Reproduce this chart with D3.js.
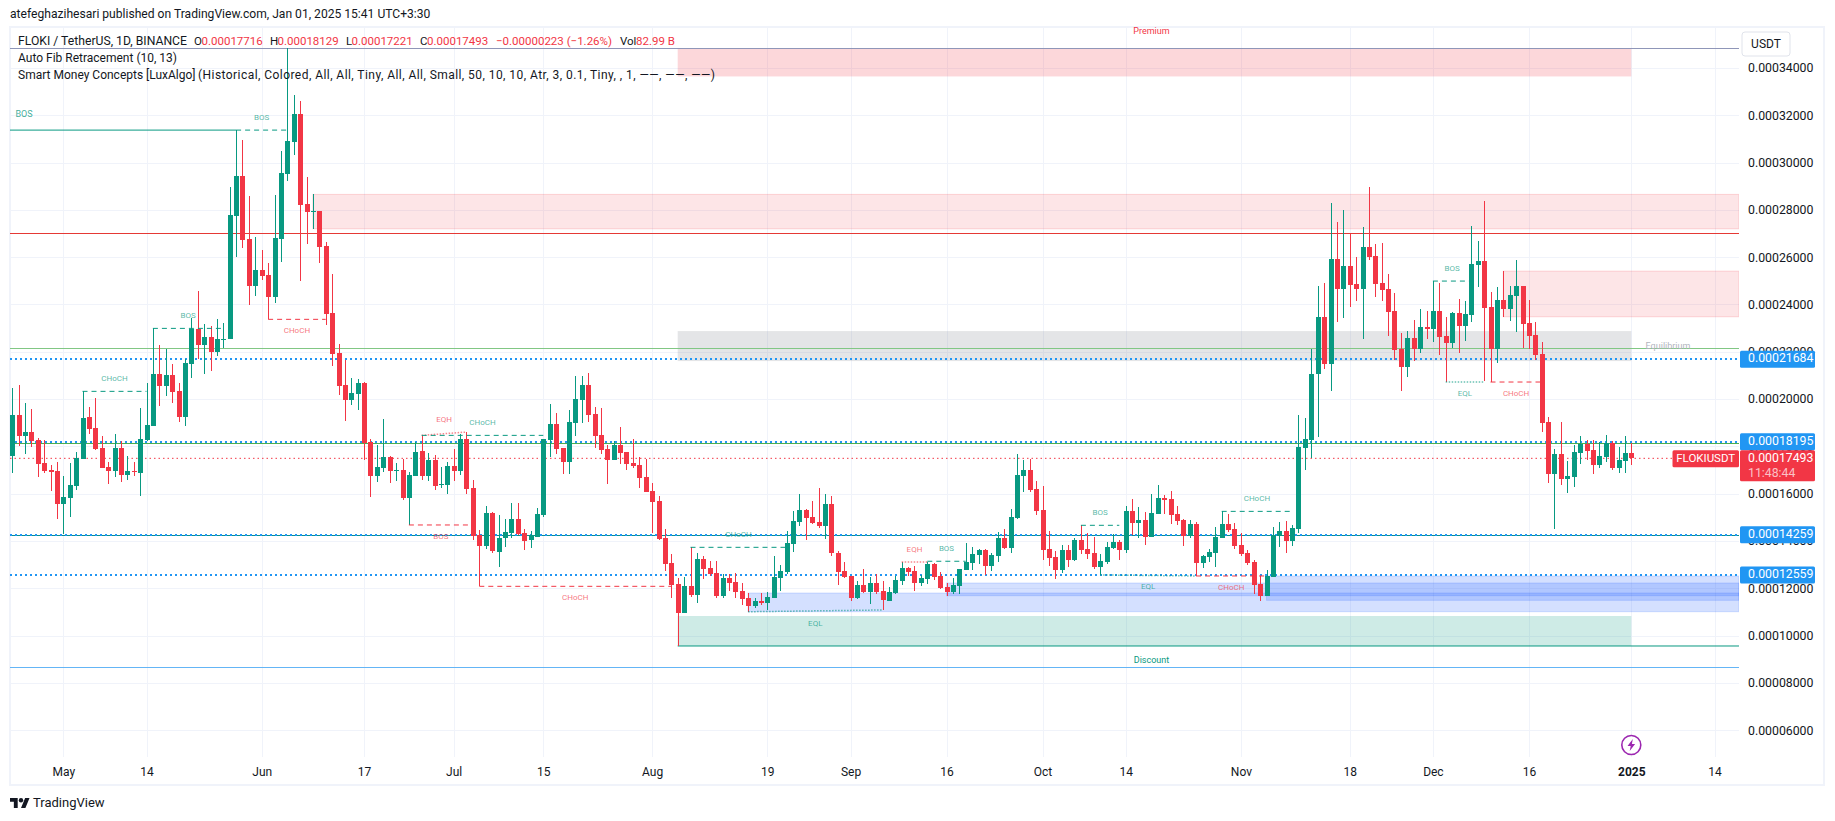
<!DOCTYPE html>
<html>
<head>
<meta charset="utf-8">
<script src="https://cdn.jsdelivr.net/npm/d3@7"></script>
<style>
  html, body { margin: 0; padding: 0; background: #fff; }
  svg { display: block; font-family: Roboto, "Liberation Sans", sans-serif; }
</style>
</head>
<body>
<svg id="chart" width="1835" height="821"></svg>
<script>
// all prices are in units of 0.00000001, daily candles from firstDay to lastDay
const firstDay = '2024-04-23';
const lastDay = '2025-01-01';

const opens = [
  17605,19324,18451,18592,18268,17295,16999,16957, // apr
  15576,15830,16337,17478,19240,18775,17929,17126,16957,17929,16788,16957,16887,18268,18873,21057,20550,21015,20339,19240,21480,22959,22283,22621,21987,22509,22539,27738,29429,26766,24779, // may
  25456,25244,24315,26766,29514,30866,32050,28246,27908,27950,26470,23638,21944,20592,19958,20211,20676,18182,16745,17083,17548,16957,17000,15815,16745,17802,16745,17421,16365,16365, // jun
  17168,16957,18309,16238,14251,13786,15181,13533,14124,14336,14928,14336,14040,14167,15096,18267,18943,17929,17337,18986,19958,20592,19366,18478,17886,17421,18056,17760,17294,17209,16702, // jul
  16110,15688,14123,13067,12179,10953,12095,11714,13236,12855,12644,11672,12433,12264,11883,11587,11249,11460,11376,11587,12433,12686,13870,14800,15307,15011,14800,14631,15561,13489,12729, // aug
  12517,11587,12137,11841,12221,11883,11460,11799,12306,12855,12729,12221,12390,13024,12517,12052,11841,12095,12771,13067,13405,13616,12940,13363,14123,13701,14969,16744,16998,16195, // sep
  15307,13658,13320,12771,13616,13194,14039,13658,13489,12898,13109,13701,13954,13616,15265,14758,14884,14166,15138,15814,15772,15138,14884,14208,14715,13067,13320,13489,14123,14715,14504, // oct
  13827,13489,13109,12179,11672,12486,14210,14421,13999,14506,17930,18268,21058,23467,21481,25919,24651,25623,24862,24651,26426,26046,24904,24651,23721,22115,21354,22580,22115,23045, // nov
  22960,23721,22664,22368,23637,23087,23552,25665,25834,23890,22115,24186,23805,24355,24778,23214,22706,21903,19029,16831,17676,16620,16704,17719,18099,17845,17211,17550,18141,17085,17381, // dec
  17716 // jan
];
const highs = [
  20466,20592,19831,19578,18352,18268,17197,17338,
  16746,17295,17746,20325,19662,20043,18437,17338,18521,18225,17591,17338,19620,20677,22988,22283,22114,21480,20677,21691,23424,24566,23171,23086,23382,23213,28964,31374,30951,28584,26851,
  26301,25752,28626,30486,34840,32853,32600,29387,28668,27950,26639,25287,22328,21648,20888,20845,20719,18309,18056,19155,17591,17295,17464,16914,18168,18464,17717,17633,17126,17337,
  17886,18520,18605,16576,14463,15477,15223,15096,14928,15604,15604,14505,14420,15392,18309,19789,19408,17929,19535,20972,20972,21099,19662,19620,18056,18225,18816,17760,18308,17547,17463,
  16448,15899,14504,13447,12433,12475,13729,13490,13363,13151,13151,12602,12602,12644,12221,11799,11587,11799,11841,13363,12982,14419,15265,15983,15349,15687,16237,15983,15899,13574,13109,
  12517,12306,12813,12475,12602,12306,12052,12517,13109,12898,12940,12560,13109,13067,12686,12221,12433,12813,13912,13743,13658,13658,13490,14377,14504,15349,17674,17420,17463,16533,
  16322,14419,13574,13828,13828,14123,14673,14335,14166,13447,13954,14293,14039,15476,15772,15434,15223,15983,16364,15941,16110,15476,14927,14884,14800,13405,13658,14588,15265,15138,14758,
  14335,13616,13194,12517,12771,14591,14801,14844,14675,19325,19198,22115,24778,24904,28286,27483,27990,26976,26004,27272,28962,26553,26595,25285,24482,22791,22876,23340,23805,23721,
  24989,24904,23467,23679,24228,24144,27314,26680,28371,24524,24735,25412,24778,25877,24778,24186,23256,22411,19240,17888,19029,17381,18057,18437,18268,18268,18184,18479,18226,17972,18437,
  18129
];
const lows = [
  16887,18028,17690,17986,16718,16887,16126,14942,
  14294,15027,16168,17478,18535,17845,17098,16422,16718,16492,16577,16746,15914,18239,18873,19705,20127,19831,19028,18859,20888,21691,21057,21184,21818,22156,22539,26019,26386,23976,24357,
  25033,23371,24061,25794,29218,30317,24991,26555,27189,25752,23131,21398,20169,19070,19746,19535,17421,15857,16492,16914,16449,16534,15730,14674,16745,16576,16534,16153,16238,15984,
  16534,16787,15984,14040,12080,13659,13490,12899,13744,14124,14251,13617,13702,14167,15012,17548,17675,16830,16830,18436,18986,19028,17929,17675,16407,17421,17252,16998,17082,16237,16068,
  14335,14039,12729,11587,9556,10953,11630,11376,12390,12517,11587,11587,11883,11587,11291,11005,11165,11291,11080,11587,11883,12602,13532,14631,14039,14715,14546,14081,13363,12137,12433,
  11460,11545,11799,11334,11756,11080,11460,11756,12137,12517,11883,12095,12179,12348,11968,11672,11756,11756,12771,12771,13024,12560,12729,13109,13658,13489,14927,16068,16068,15096,
  13194,12940,12390,12644,12898,13151,13447,13236,12813,12560,13024,13658,13194,13489,14250,14123,13828,14166,15138,15138,14715,14673,13785,14123,12517,12855,13109,12898,14123,14377,13658,
  13363,12982,11756,11460,11672,12486,13745,13492,13788,14337,17000,17507,18395,21269,20339,23256,23425,23890,24143,22537,25877,24313,24143,22664,21650,20339,20931,21608,21946,22537,
  22410,21861,20720,22157,21946,22453,23256,24735,20762,20720,21523,23467,23298,22833,22157,22115,21650,18606,16451,14506,16366,16028,16282,17254,17423,16831,17085,17338,17000,16873,16873,
  17221
];
const closes = [
  19324,18451,18592,18239,17267,16971,16929,15576,
  15858,16365,17507,19197,18732,17887,17098,16957,17929,16788,16957,16915,18310,18902,21057,20550,21015,20296,19240,21522,22959,22283,22621,21987,22537,22537,27781,29429,26724,24779,25456,
  25202,24315,26809,29556,30909,32050,28203,27908,27950,26428,23596,21905,20549,19958,20254,20676,18140,16745,17126,17548,16957,17000,15815,16787,17760,16745,17421,16322,16407,17168,
  16957,18309,16196,14209,13786,15181,13575,14124,14378,14928,14294,13998,14251,15139,18309,18943,17886,17337,19028,20000,20592,19324,18436,17844,17421,18056,17717,17252,17167,16660,16068,
  15645,14081,13024,12137,10953,12095,11714,13236,12813,12602,11672,12433,12221,11841,11545,11249,11460,11376,11630,12475,12729,13912,14842,15307,14969,14758,14631,15561,13489,12686,12475,
  11587,12137,11841,12221,11841,11503,11841,12348,12855,12686,12221,12433,13024,12475,12010,11841,12137,12813,13109,13447,13616,12940,13405,14123,13701,15011,16787,16998,16153,15265,
  13616,13278,12771,13616,13194,14039,13616,13447,12898,13151,13743,13954,13616,15265,14758,14884,14166,15180,15814,15730,15096,14842,14208,14715,13067,13363,13532,14166,14715,14462,13785,
  13447,13067,12137,11672,12517,14252,14421,13999,14549,17972,18310,21058,23467,21481,25919,24651,25623,24820,24651,26426,26004,24862,24609,23679,22072,21354,22580,22115,23045,22960,
  23721,22622,22368,23637,23087,23594,25707,25834,23848,22115,24186,23805,24397,24778,23171,22664,21861,18987,16831,17676,16620,16746,17761,18099,17803,17211,17592,18141,17085,17423,17719,
  17493
];

const priceTicks = [34000,32000,30000,28000,26000,24000,22000,20000,18000,16000,14000,12000,10000,8000,6000];
const timeTicks = ['2024-05-01','2024-05-14','2024-06-01','2024-06-17','2024-07-01','2024-07-15','2024-08-01','2024-08-19','2024-09-01','2024-09-16','2024-10-01','2024-10-14','2024-11-01','2024-11-18','2024-12-01','2024-12-16','2025-01-01','2025-01-14'];
const timeLabels = ['May','14','Jun','17','Jul','15','Aug','19','Sep','16','Oct','14','Nov','18','Dec','16','2025','14'];

// fib levels and swing levels running across the whole chart
const fibLevels = [34840, 27005, 22143, 18150, 14232, 8655];
const fibKinds = ['top', 'red', 'lightgreen', 'green', 'teal', 'sky'];
const tagLevels = [21684, 18195, 14259, 12559];

// zone: kind, from, to (null = right edge), top, bottom
const zones = [
  ['premium', '2024-08-05', '2025-01-01', 34840, 33643],
  ['discount', '2024-08-05', '2025-01-01', 10824, 9556],
  ['equilibrium', '2024-08-05', '2025-01-01', 22874, 21606],
  ['supply', '2024-06-09', null, 28654, 27200],
  ['supply', '2024-12-12', null, 25411, 23479],
  ['demand', '2024-08-16', null, 11797, 11006],
  ['demand', '2024-09-16', null, 12220, 11683],
  ['demand', '2024-11-05', null, 12516, 11488]
];

// structure: label, side, style, from, to, start level, end level, label above(-1)/below(1)
const structures = [
  ['CHoCH', 'bull', 'dash', '2024-05-04', '2024-05-14', 20325, 20325, -1],
  ['BOS', 'bull', 'dash', '2024-05-15', '2024-05-26', 22988, 22988, -1],
  ['BOS', 'bull', 'dash', '2024-05-28', '2024-06-05', 31374, 31374, -1],
  ['CHoCH', 'bear', 'dash', '2024-06-02', '2024-06-11', 23371, 23371, 1],
  ['EQH', 'bear', 'dot', '2024-06-26', '2024-07-03', 18464, 18605, -1.3],
  ['CHoCH', 'bull', 'dash', '2024-06-26', '2024-07-15', 18464, 18464, -1],
  ['BOS', 'bear', 'dash', '2024-06-24', '2024-07-04', 14674, 14674, 1],
  ['CHoCH', 'bear', 'dash', '2024-07-05', '2024-08-04', 12080, 12080, 1],
  ['CHoCH', 'bull', 'dash', '2024-08-07', '2024-08-22', 13729, 13729, -1],
  ['EQL', 'bull', 'dot', '2024-08-16', '2024-09-06', 11005, 11080, 1],
  ['EQH', 'bear', 'dot', '2024-09-09', '2024-09-13', 13109, 13109, -1],
  ['BOS', 'bull', 'dash', '2024-09-13', '2024-09-19', 13140, 13140, -1],
  ['BOS', 'bull', 'dash', '2024-10-07', '2024-10-13', 14660, 14660, -1],
  ['CHoCH', 'bull', 'dash', '2024-10-29', '2024-11-09', 15250, 15250, -1],
  ['EQL', 'bull', 'dot', '2024-10-10', '2024-10-25', 12560, 12517, 1],
  ['CHoCH', 'bear', 'dash', '2024-10-25', '2024-11-05', 12517, 12517, 1],
  ['BOS', 'bull', 'dash', '2024-12-01', '2024-12-07', 24989, 24989, -1],
  ['EQL', 'bull', 'dot', '2024-12-03', '2024-12-09', 20720, 20720, 1],
  ['CHoCH', 'bear', 'dash', '2024-12-10', '2024-12-18', 20720, 20720, 1]
];

const GREEN = '#089981', RED = '#f23645', BLUE = '#2196f3', GRID = '#f0f3fa', INK = '#131722';
const plot = { left: 10, right: 1739, top: 28, bottom: 757 };

const svg = d3.select('#chart');
const parseDay = d3.utcParse('%Y-%m-%d');
const days = d3.utcDay.range(parseDay(firstDay), d3.utcDay.offset(parseDay(lastDay), 1));

const x = d3.scaleUtc()
  .domain([parseDay('2024-05-01'), parseDay('2025-01-01')])
  .range([63.3, 1631.3]);
const y = d3.scaleLinear()
  .domain([10000, 34000])
  .range([635.5, 68]);
const fmtPrice = d => (d * 1e-8).toFixed(8);

// outer frame
svg.append('rect').attr('x', 10).attr('y', 27).attr('width', 1814).attr('height', 758)
  .attr('fill', 'none').attr('stroke', GRID).attr('stroke-width', 2);

// grid comes from the axes
const yGrid = svg.append('g').attr('transform', `translate(${plot.right},0)`)
  .call(d3.axisLeft(y).tickValues(priceTicks).tickSize(plot.right - plot.left).tickFormat(''));
const xGrid = svg.append('g').attr('transform', `translate(0,${plot.bottom})`)
  .call(d3.axisBottom(x).tickValues(timeTicks.map(parseDay)).tickSize(-(plot.bottom - plot.top)).tickFormat(''));
[yGrid, xGrid].forEach(g => {
  g.select('.domain').remove();
  g.selectAll('line').attr('stroke', GRID).attr('shape-rendering', 'crispEdges');
});

svg.append('clipPath').attr('id', 'plotClip').append('rect')
  .attr('x', plot.left).attr('y', plot.top)
  .attr('width', plot.right - plot.left).attr('height', plot.bottom - plot.top);
const g = svg.append('g').attr('clip-path', 'url(#plotClip)');

// zones
const zoneFill = { premium: RED, supply: RED, discount: GREEN, equilibrium: '#787b86', demand: '#2962ff' };
const zoneOpacity = { premium: 0.2, supply: 0.13, discount: 0.2, equilibrium: 0.2, demand: 0.2 };
g.selectAll('.zone').data(zones).enter().append('rect')
  .attr('class', 'zone')
  .attr('x', d => x(parseDay(d[1])))
  .attr('y', d => y(d[3]))
  .attr('width', d => (d[2] ? x(parseDay(d[2])) : plot.right) - x(parseDay(d[1])))
  .attr('height', d => y(d[4]) - y(d[3]))
  .attr('fill', d => zoneFill[d[0]])
  .attr('fill-opacity', d => zoneOpacity[d[0]])
  .attr('stroke', d => d[0] === 'demand' || d[0] === 'supply' ? zoneFill[d[0]] : 'none')
  .attr('stroke-opacity', 0.18);

// fib lines
const fibColor = { top: '#8f96b8', red: '#e53935', lightgreen: '#81c784', green: '#4caf50', teal: '#0a8f8a', sky: '#64b5f6' };
g.selectAll('.fib').data(fibLevels).enter().append('line')
  .attr('x1', plot.left).attr('x2', plot.right)
  .attr('y1', d => Math.round(y(d)) + 0.5).attr('y2', d => Math.round(y(d)) + 0.5)
  .attr('stroke', (d, i) => fibColor[fibKinds[i]])
  .attr('stroke-width', 1);

// swing low line under the discount zone and the BOS line on the far left
g.append('line').attr('x1', x(parseDay('2024-08-05'))).attr('x2', plot.right)
  .attr('y1', y(9556)).attr('y2', y(9556)).attr('stroke', GREEN).attr('stroke-width', 1);
g.append('line').attr('x1', plot.left).attr('x2', x(parseDay('2024-05-28')))
  .attr('y1', y(31374)).attr('y2', y(31374)).attr('stroke', GREEN).attr('stroke-width', 1);

// dotted price levels
g.selectAll('.tagline').data(tagLevels).enter().append('line')
  .attr('x1', plot.left).attr('x2', plot.right)
  .attr('y1', d => Math.round(y(d))).attr('y2', d => Math.round(y(d)))
  .attr('stroke', BLUE).attr('stroke-width', 2).attr('stroke-dasharray', '2 3')
  .attr('shape-rendering', 'crispEdges');
const lastClose = closes[closes.length - 1];
g.append('line').attr('x1', plot.left).attr('x2', plot.right)
  .attr('y1', y(lastClose)).attr('y2', y(lastClose))
  .attr('stroke', RED).attr('stroke-width', 1).attr('stroke-dasharray', '1.5 3');

// candles
const candles = g.selectAll('.candle').data(days).enter().append('g').attr('class', 'candle');
const candleColor = (d, i) => closes[i] >= opens[i] ? GREEN : RED;
candles.append('line')
  .attr('x1', d => Math.round(x(d)) + 0.5).attr('x2', d => Math.round(x(d)) + 0.5)
  .attr('y1', (d, i) => y(highs[i])).attr('y2', (d, i) => y(lows[i]))
  .attr('stroke', candleColor).attr('shape-rendering', 'crispEdges');
candles.append('rect')
  .attr('x', d => Math.round(x(d)) - 2)
  .attr('width', 5)
  .attr('y', (d, i) => y(Math.max(opens[i], closes[i])))
  .attr('height', (d, i) => Math.max(1, Math.abs(y(opens[i]) - y(closes[i]))))
  .attr('fill', candleColor).attr('shape-rendering', 'crispEdges');

// structure lines and their small labels
const sideColor = { bull: GREEN, bear: RED };
g.selectAll('.struct').data(structures).enter().append('line')
  .attr('x1', d => x(parseDay(d[3]))).attr('x2', d => x(parseDay(d[4])))
  .attr('y1', d => y(d[5])).attr('y2', d => y(d[6]))
  .attr('stroke', d => sideColor[d[1]])
  .attr('stroke-opacity', d => d[2] === 'dot' ? 0.6 : 1)
  .attr('stroke-width', d => d[2] === 'dot' ? 1.5 : 1)
  .attr('stroke-dasharray', d => d[2] === 'dot' ? '1.5 1.5' : '5 4');
g.selectAll('.structLabel').data(structures).enter().append('text')
  .attr('x', d => (x(parseDay(d[3])) + x(parseDay(d[4]))) / 2)
  .attr('y', d => y(d[5]) + d[7] * 12)
  .attr('text-anchor', 'middle').attr('dominant-baseline', 'middle')
  .attr('font-size', 8)
  .attr('fill', d => sideColor[d[1]]).attr('fill-opacity', 0.7)
  .text(d => d[0]);

// loose zone and line labels
const addLabel = (txt, px, py, color, size, anchor) => svg.append('text')
  .attr('x', px).attr('y', py)
  .attr('text-anchor', anchor || 'middle').attr('dominant-baseline', 'middle')
  .attr('font-size', size).attr('fill', color).text(txt);
addLabel('BOS', 24, 114.7, GREEN, 9).attr('fill-opacity', 0.8);
addLabel('Premium', 1151.5, 32, RED, 9);
addLabel('Discount', 1151.5, 661, GREEN, 9);
addLabel('Equilibrium', 1668, 347, '#b2b5be', 9);

// price axis
const yAxis = svg.append('g').attr('transform', `translate(${plot.right},0)`)
  .call(d3.axisRight(y).tickValues(priceTicks).tickSize(0).tickPadding(9).tickFormat(fmtPrice));
yAxis.select('.domain').remove();
yAxis.selectAll('text').attr('font-family', 'Roboto').attr('font-size', 12.3).attr('fill', INK);

// time axis
const xAxis = svg.append('g').attr('transform', `translate(0,${plot.bottom})`)
  .call(d3.axisBottom(x).tickValues(timeTicks.map(parseDay)).tickSize(0).tickPadding(10)
    .tickFormat((d, i) => timeLabels[i]));
xAxis.select('.domain').remove();
xAxis.selectAll('text').attr('font-family', 'Roboto').attr('font-size', 12).attr('fill', INK)
  .attr('font-weight', (d, i) => timeLabels[i] === '2025' ? 'bold' : 'normal');

// price tags on the right
tagLevels.forEach(v => {
  svg.append('rect').attr('x', 1740).attr('y', y(v) - 8.5).attr('width', 75).attr('height', 17)
    .attr('rx', 1.5).attr('fill', BLUE);
  addLabel(fmtPrice(v), 1748, y(v), '#fff', 12.3, 'start');
});
svg.append('rect').attr('x', 1672.5).attr('y', y(lastClose) - 8).attr('width', 66.5).attr('height', 17)
  .attr('rx', 1.5).attr('fill', RED);
addLabel('FLOKIUSDT', 1705.7, y(lastClose) + 0.5, '#fff', 11.5);
svg.append('rect').attr('x', 1740).attr('y', y(lastClose) - 8).attr('width', 75).attr('height', 31)
  .attr('rx', 1.5).attr('fill', RED);
addLabel(fmtPrice(lastClose), 1748, y(lastClose) + 0.5, '#fff', 12.3, 'start');
addLabel('11:48:44', 1748, y(lastClose) + 15.5, '#fff', 12.3, 'start').attr('fill-opacity', 0.7);

// USDT button
svg.append('rect').attr('x', 1742).attr('y', 32).attr('width', 48).attr('height', 24)
  .attr('rx', 3).attr('fill', '#fff').attr('stroke', '#e0e3eb');
addLabel('USDT', 1766, 44.5, INK, 12);

// header and legend
addLabel('atefeghazihesari published on TradingView.com, Jan 01, 2025 15:41 UTC+3:30', 10, 15, INK, 12.1, 'start');
addLabel('FLOKI / TetherUS, 1D, BINANCE', 18, 41.5, INK, 12.2, 'start');
const legendParts = [
  ['O', 194, INK], ['0.00017716', 201.5, RED], ['H', 270, INK], ['0.00018129', 277.5, RED],
  ['L', 346, INK], ['0.00017221', 351.5, RED], ['C', 420, INK], ['0.00017493', 427, RED],
  ['\u22120.00000223 (\u22121.26%)', 496, RED], ['Vol', 620, INK], ['82.99 B', 636, RED]
];
legendParts.forEach(p => addLabel(p[0], p[1], 41.5, p[2], 11.5, 'start'));
addLabel('Auto Fib Retracement (10, 13)', 18, 59, INK, 12, 'start');
addLabel('Smart Money Concepts [LuxAlgo]', 18, 76, INK, 12, 'start');
addLabel('(Historical, Colored, All, All, Tiny, All, All, Small, 50, 10, 10, Atr, 3, 0.1, Tiny, , 1, \u2014\u2014, \u2014\u2014, \u2014\u2014)', 198, 76, INK, 12, 'start')
  .attr('textLength', 517).attr('lengthAdjust', 'spacing');

// event marker above the time axis
const bolt = svg.append('g').attr('transform', `translate(${x(parseDay('2025-01-01'))},745)`);
bolt.append('circle').attr('r', 9.5).attr('fill', '#fff').attr('stroke', '#9c27b0').attr('stroke-width', 1.6);
bolt.append('path').attr('d', 'M1.5 -6 L-3.8 1 L-0.6 1 L-1.6 6 L3.8 -1 L0.6 -1 Z').attr('fill', '#9c27b0');

// TradingView logo
const logo = svg.append('g').attr('transform', 'translate(10,795.8) scale(0.55)').attr('fill', INK);
logo.append('path').attr('d', 'M14 22H7V11H0V4h14v18zM28 22h-8l7.5-18h8L28 22z');
logo.append('circle').attr('cx', 20).attr('cy', 8).attr('r', 4);
addLabel('TradingView', 33, 803.5, INK, 13, 'start');
</script>
</body>
</html>
